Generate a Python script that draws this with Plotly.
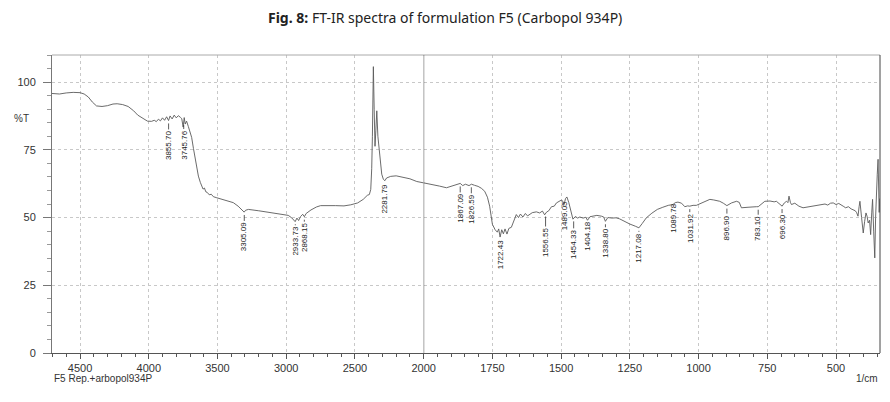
import numpy as np
import plotly.graph_objects as go

# ---- spectrum data (wavenumber 1/cm, %T) ----
wavenumber = [
    4704, 4650, 4600, 4550, 4500, 4470, 4440, 4410, 4380, 4340, 4300, 4260, 4230, 4190, 4150,
    4110, 4080, 4040, 4010, 3980, 3960, 3945, 3930, 3915, 3900, 3885, 3870, 3856, 3845, 3830,
    3815, 3800, 3785, 3770, 3760, 3750, 3742, 3735, 3725, 3712, 3700, 3688, 3675, 3663, 3650,
    3639, 3625, 3615, 3605, 3595, 3585, 3575, 3560, 3545, 3530, 3505, 3470, 3430, 3385, 3350,
    3320, 3306, 3295, 3275, 3200, 3100, 3020, 2985, 2960, 2948, 2935, 2922, 2910, 2895, 2880,
    2868, 2855, 2820, 2780, 2750, 2700, 2640, 2580, 2530, 2480, 2440, 2410, 2395, 2385, 2378,
    2373, 2366, 2360, 2354, 2348, 2341, 2333, 2320, 2305, 2293, 2282, 2270, 2240, 2200, 2150,
    2100, 2050, 2000,
    1970, 1942, 1917, 1895, 1880, 1867, 1858, 1848, 1835, 1826, 1815, 1802, 1790, 1778, 1768,
    1760, 1750, 1740, 1732, 1727, 1722, 1716, 1710, 1704, 1697, 1690, 1681, 1672, 1663, 1655,
    1648, 1639, 1630, 1622, 1614, 1605, 1590, 1578, 1568, 1560, 1553, 1545, 1535, 1525, 1517,
    1508, 1500, 1495, 1489, 1484, 1479, 1472, 1465, 1457, 1448, 1440, 1432, 1420, 1410, 1404,
    1395, 1384, 1370, 1353, 1345, 1339, 1330, 1315, 1300, 1287, 1270, 1250, 1230, 1217, 1205,
    1190, 1170, 1150, 1130, 1110, 1093, 1085, 1075, 1062, 1050, 1040, 1032, 1020, 1008, 990,
    975, 959, 945, 923, 910, 897, 880, 862, 852, 844, 820, 800, 790, 783, 770,
    759, 740, 725, 717, 705, 696, 688, 680, 675, 671, 666, 662, 650, 635, 620,
    600, 585, 571, 555, 540, 530, 520, 510, 500, 490, 480, 474, 465, 455, 445,
    438, 430, 425, 420, 416, 413, 407, 401, 396, 391, 387, 383, 378, 374, 370,
    367, 363, 359, 356, 353, 350, 347, 345, 343, 341,
]
transmittance = [
    95.8, 95.6, 96.0, 96.2, 96.1, 95.6, 94.5, 92.6, 91.2, 91.0, 91.3, 91.9, 92.0, 91.7, 91.0,
    89.4, 87.8, 86.4, 85.6, 85.5, 85.9, 85.4, 86.3, 85.7, 86.8, 85.9, 87.2, 85.8, 87.5, 86.4,
    87.8, 86.8, 87.6, 87.0, 86.5, 83.4, 86.9, 84.5, 85.6, 83.6, 81.5, 79.6, 75.5, 71.5, 68.0,
    65.3, 63.0, 61.4, 60.5, 60.9, 59.5, 59.3, 58.4, 58.6, 57.7, 57.3, 56.8, 56.3, 55.5, 54.2,
    52.6, 52.0, 52.7, 53.0, 52.5, 51.8, 51.1, 50.8, 49.9, 49.2, 48.5, 49.8, 48.9, 50.4, 51.2,
    50.3, 51.5, 52.8, 53.9, 54.4, 54.5, 54.4, 54.3, 54.7, 55.4, 56.7, 58.2, 58.5, 60.4, 68.0,
    80.0, 105.7, 90.0, 76.3, 82.0, 89.4, 80.0, 72.0, 66.0, 64.1, 63.6, 64.6, 65.2, 65.4, 64.8,
    64.3, 63.3, 62.8,
    62.3, 61.6, 61.0, 61.8, 62.1, 62.6, 61.8, 62.3, 61.8, 62.3, 61.9, 61.5, 60.8, 59.7, 57.5,
    54.2, 47.5, 45.5, 44.6, 45.8, 42.8, 45.5, 44.0, 45.8, 43.9, 46.0, 46.4, 49.0, 51.1, 50.0,
    51.3, 50.2, 51.5, 50.6, 51.3, 51.8, 52.1, 51.7, 52.4, 51.0, 52.0, 52.5, 54.0, 54.2, 55.4,
    55.8, 56.4, 56.2, 54.9, 57.0, 57.6, 55.5, 52.5, 49.4, 50.4, 49.8, 50.2, 49.8, 50.1, 49.0,
    50.3, 50.5, 50.8, 50.5, 50.2, 48.6, 50.0, 49.8, 49.9, 49.5, 48.6, 47.6, 46.8, 46.2, 47.8,
    49.9, 51.6, 53.0, 53.8, 54.5, 54.8, 55.5, 55.7, 55.3, 54.0, 54.3, 54.2, 54.5, 54.5, 55.3,
    56.0, 56.7, 56.5, 56.0, 55.3, 54.4, 55.4, 56.0, 55.6, 53.6, 53.8, 54.1, 54.0, 54.0, 55.0,
    56.0, 56.1, 55.8, 56.0, 55.1, 54.2, 55.4, 56.0, 55.5, 57.9, 55.6, 54.8, 55.3, 54.2, 53.6,
    53.9, 54.3, 54.4, 54.7, 55.0, 54.6, 55.3, 55.4, 54.8, 55.2, 54.4, 54.2, 53.6, 54.0, 53.2,
    53.0, 52.5, 51.8, 50.5, 54.0, 56.0, 50.0, 44.3, 48.5, 51.7, 50.5, 48.0, 49.0, 43.7, 52.0,
    56.7, 45.0, 35.1, 50.0, 60.4, 66.0, 71.5, 62.0, 51.9, 57.0,
]

# ---- peak labels ----
peak_wn = [3855.70, 3745.76, 3305.09, 2933.73, 2868.15, 2281.79, 1867.09, 1826.59, 1722.43,
           1556.55, 1489.05, 1454.33, 1404.18, 1338.80, 1217.08, 1089.78, 1031.92, 896.90,
           783.10, 696.30]
peak_text = ["3855.70", "3745.76", "3305.09", "2933.73", "2868.15", "2281.79", "1867.09",
             "1826.59", "1722.43", "1556.55", "1489.05", "1454.33", "1404.18", "1338.80",
             "1217.08", "1089.78", "1031.92", "896.90", "783.10", "696.30"]
peak_offset = [25, 23, 25, 20, 21, 18, 25, 25, 18, 29, 12, 26, 16, 22, 20, 14, 22, 22, 22, 21]

left_ticks = [4500, 4000, 3500, 3000, 2500]
right_ticks = [2000, 1750, 1500, 1250, 1000, 750, 500]
y_ticks = [0, 25, 50, 75, 100]

title_text = "<b>Fig. 8:</b> FT-IR spectra of formulation F5 (Carbopol 934P)"
sample_name = "F5 Rep.+arbopol934P"
x_unit = "1/cm"
y_unit = "%T"

split = 2000
x_left_range = [4704, 2000]
x_right_range = [2000, 340]

wn = np.array(wavenumber, dtype=float)
tr = np.array(transmittance, dtype=float)
mask_l = wn >= split
mask_r = wn <= split

line_color = "#5a5a5a"
axis_color = "#555555"
grid_color = "#c8c8c8"
text_color = "#333333"
base_font = "Liberation Sans, Arial, sans-serif"

fig = go.Figure()
fig.add_trace(go.Scatter(x=wn[mask_l], y=tr[mask_l], mode="lines", xaxis="x", yaxis="y",
                         line=dict(color=line_color, width=0.9), hoverinfo="x+y"))
fig.add_trace(go.Scatter(x=wn[mask_r], y=tr[mask_r], mode="lines", xaxis="x2", yaxis="y",
                         line=dict(color=line_color, width=0.9), hoverinfo="x+y"))

# domain split so that 500 (left) and 250 (right) units take the same length
span_l = (x_left_range[0] - x_left_range[1]) / 500.0
span_r = (x_right_range[0] - x_right_range[1]) / 250.0
d_split = span_l / (span_l + span_r)

common_x = dict(showline=True, linecolor=axis_color, linewidth=1, ticks="outside", ticklen=5,
                tickcolor=axis_color, showgrid=True, gridcolor=grid_color, griddash="dot",
                gridwidth=1, zeroline=False, tickfont=dict(family=base_font, size=11, color=text_color),
                anchor="y")

W, H = 882, 394
ML, MR, MT, MB = 44, 10, 47, 49
fig.update_layout(
    width=W, height=H,
    margin=dict(l=ML, r=MR, t=MT, b=MB),
    paper_bgcolor="white", plot_bgcolor="white",
    showlegend=False,
    xaxis=dict(domain=[0, d_split], range=x_left_range, tickvals=left_ticks,
               minor=dict(dtick=100, ticks="outside", ticklen=3, tickcolor=axis_color, showgrid=False),
               **common_x),
    xaxis2=dict(domain=[d_split, 1], range=x_right_range, tickvals=right_ticks,
                minor=dict(dtick=50, ticks="outside", ticklen=3, tickcolor=axis_color, showgrid=False),
                **common_x),
    yaxis=dict(range=[0, 110], tickvals=y_ticks, showline=True, linecolor="#777777", linewidth=1,
               ticks="outside", ticklen=8, tickcolor="#777777", ticklabelstandoff=5,
               minor=dict(dtick=5, ticks="outside", ticklen=4, tickcolor="#999999", showgrid=False),
               showgrid=True, gridcolor=grid_color, griddash="dot", zeroline=False,
               tickfont=dict(family=base_font, size=11, color=text_color), anchor="x"),
)

# title as a paper-anchored annotation (kept inside the figure)
plot_w = W - ML - MR
plot_h = H - MT - MB
fig.add_annotation(x=(437 - ML) / plot_w, y=1 + (MT - 9) / plot_h, xref="paper", yref="paper",
                   text=title_text, showarrow=False, xanchor="center", yanchor="middle",
                   font=dict(family="Noto Sans, sans-serif", size=14, color="#222222"))

# borders and the scale-change divider
fig.add_shape(type="line", xref="paper", yref="paper", x0=0, x1=1, y0=1, y1=1,
              line=dict(color="#aaaaaa", width=1))
fig.add_shape(type="line", xref="x2", yref="paper", x0=split, x1=split, y0=0, y1=1,
              line=dict(color="#333333", width=1))
fig.add_shape(type="line", xref="paper", yref="paper", x0=1, x1=1, y0=0, y1=1,
              line=dict(color="#444444", width=1))

# peak annotations
asc_wn = wn[::-1]
asc_tr = tr[::-1]
for w, t, off in zip(peak_wn, peak_text, peak_offset):
    yv = float(np.interp(w, asc_wn, asc_tr))
    fig.add_annotation(x=w, y=yv, xref="x" if w >= split else "x2", yref="y",
                       text=t, textangle=-90, showarrow=True, arrowhead=0, arrowwidth=0.8,
                       arrowcolor="#333333", ax=0, ay=off, standoff=3,
                       font=dict(family="Liberation Sans Narrow, Liberation Sans, Arial", size=8,
                                 color="#222222"))

# text labels around the axes
fig.add_annotation(x=-0.025, y=86.5, xref="paper", yref="y", text=y_unit, showarrow=False,
                   xanchor="right", font=dict(family=base_font, size=10, color=text_color))
fig.add_annotation(x=0.0, y=-0.06, xref="paper", yref="paper", text=sample_name, showarrow=False,
                   xanchor="left", yanchor="top", font=dict(family=base_font, size=10, color=text_color))
fig.add_annotation(x=1.0, y=-0.06, xref="paper", yref="paper", text=x_unit, showarrow=False,
                   xanchor="right", yanchor="top", font=dict(family=base_font, size=10, color=text_color))

fig.write_html("out.html")
